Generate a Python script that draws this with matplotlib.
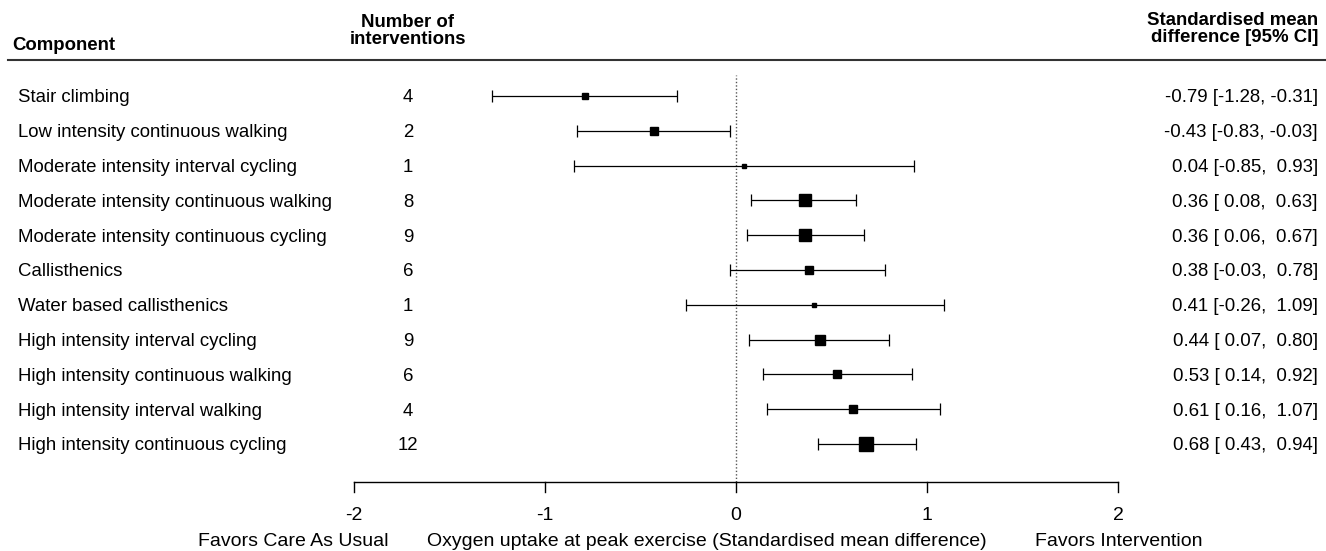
import matplotlib as mpl
mpl.use('Agg')
from matplotlib import pyplot as plt

plt.rcParams['font.family'] = ['Liberation Sans', 'DejaVu Sans']
plt.rcParams['font.size'] = 13.4

components = [
    "Stair climbing",
    "Low intensity continuous walking",
    "Moderate intensity interval cycling",
    "Moderate intensity continuous walking",
    "Moderate intensity continuous cycling",
    "Callisthenics",
    "Water based callisthenics",
    "High intensity interval cycling",
    "High intensity continuous walking",
    "High intensity interval walking",
    "High intensity continuous cycling",
]
n_interventions = [4, 2, 1, 8, 9, 6, 1, 9, 6, 4, 12]
smd = [-0.79, -0.43, 0.04, 0.36, 0.36, 0.38, 0.41, 0.44, 0.53, 0.61, 0.68]
ci_low = [-1.28, -0.83, -0.85, 0.08, 0.06, -0.03, -0.26, 0.07, 0.14, 0.16, 0.43]
ci_high = [-0.31, -0.03, 0.93, 0.63, 0.67, 0.78, 1.09, 0.80, 0.92, 1.07, 0.94]
xticks = [-2, -1, 0, 1, 2]

# pixel -> data helpers (layout only)
def xpx(p):
    return (p - 736) / 191.0

def ypx(p):
    return 1 + (444 - p) / 34.8

fig = plt.figure(figsize=(13.26, 5.51), dpi=100)
ax = fig.add_axes([0, 0, 1, 1])
ax.axis('off')
ax.set_xlim(xpx(0), xpx(1326))
ax.set_ylim(ypx(551), ypx(0))

n = len(components)
ypos = [n - i for i in range(n)]

# box size from precision (1/SE), like metafor does
prec = [3.92 / (h - l) for l, h in zip(ci_low, ci_high)]
pmin, pmax = min(prec), max(prec)
box_px = [3.5 + (p - pmin) / (pmax - pmin) * 10 for p in prec]

# zero line
ax.plot([0, 0], [ypx(482), ypx(75)], color='#555555', lw=1, ls=(0, (1, 1.5)))

for i in range(n):
    y = ypos[i]
    ax.errorbar(smd[i], y, xerr=[[smd[i] - ci_low[i]], [ci_high[i] - smd[i]]],
                fmt='none', ecolor='black', elinewidth=0.9, capsize=4, capthick=0.9)
    ax.plot(smd[i], y, marker='s', color='black', markersize=box_px[i] * 0.72, ls='none')
    ax.text(xpx(18), y, components[i], ha='left', va='center_baseline')
    ax.text(xpx(408), y, str(n_interventions[i]), ha='center', va='center_baseline')
    ax.text(xpx(1318), y, "%.2f [%5.2f, %5.2f]" % (smd[i], ci_low[i], ci_high[i]),
            ha='right', va='center_baseline')

# headers
ax.text(xpx(12), ypx(44), "Component", ha='left', va='center_baseline', fontweight='bold')
ax.text(xpx(408), ypx(31), "Number of\ninterventions", ha='center', va='center',
        fontweight='bold', linespacing=1.05)
ax.text(xpx(1318), ypx(29), "Standardised mean\ndifference [95% CI]", ha='right', va='center',
        fontweight='bold', linespacing=1.05)
ax.plot([xpx(8), xpx(1326)], [ypx(60), ypx(60)], color='#333333', lw=1.5)

# x axis
ya = ypx(482)
ax.plot([xticks[0], xticks[-1]], [ya, ya], color='black', lw=1)
for t in xticks:
    ax.plot([t, t], [ya, ypx(492)], color='black', lw=1)
    ax.text(t, ypx(514), str(t), ha='center', va='center_baseline', fontsize=14)

ax.text(xpx(293), ypx(540), "Favors Care As Usual", ha='center', va='center_baseline', fontsize=14)
ax.text(xpx(707), ypx(540), "Oxygen uptake at peak exercise (Standardised mean difference)",
        ha='center', va='center_baseline', fontsize=14)
ax.text(xpx(1119), ypx(540), "Favors Intervention", ha='center', va='center_baseline', fontsize=14)

fig.savefig("out.png", dpi=100)
